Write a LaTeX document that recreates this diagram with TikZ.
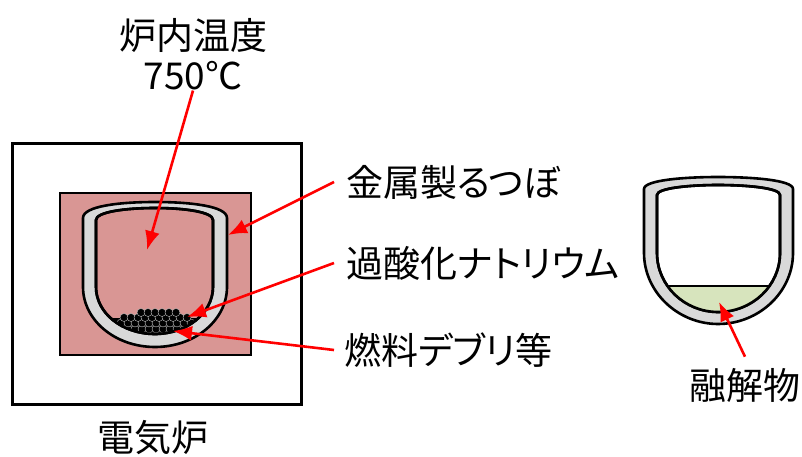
\documentclass[tikz,border=0pt]{standalone}
\usepackage{fontspec}
\usepackage{tikz}
\usetikzlibrary{arrows.meta,positioning}
\newfontfamily\jpfont[RawFeature=+palt]{Noto Sans CJK JP}
\definecolor{ovenpink}{RGB}{217,150,148}
\definecolor{wallgray}{RGB}{217,217,217}
\definecolor{meltgreen}{RGB}{215,228,189}
\tikzset{lbl/.style={font=\jpfont\fontsize{37}{44}\selectfont, inner sep=0pt}}
\tikzstyle{ptr}=[draw=red, line width=2.6pt, -{Latex[length=19pt,width=15pt]}]
\tikzstyle{wall}=[draw=black, line width=2.6pt]
\tikzstyle{ball}=[fill=black, draw=white!75!black, line width=0.4pt]

% crucible outlines (pixel coordinates, y downwards)
\def\potOut{(83,287) -- (83,218) .. controls (83,206) and (120,202) .. (155,202) .. controls (190,202) and (227,206) .. (227,218) -- (227,287) .. controls (227,320) and (195,347) .. (155,347) .. controls (115,347) and (83,320) .. (83,287) -- cycle}
\def\potIn{(96,287) -- (96,220) .. controls (96,212) and (125,208) .. (155,208) .. controls (185,208) and (213,212) .. (213,220) -- (213,287) .. controls (213,313) and (187,334) .. (155,334) .. controls (122,334) and (96,313) .. (96,287) -- cycle}
\def\cupOut{(644,253) -- (644,189) .. controls (644,180) and (685,177) .. (718,177) .. controls (752,177) and (793,180) .. (793,189) -- (793,253) .. controls (793,292) and (759,324) .. (718,324) .. controls (678,324) and (644,292) .. (644,253) -- cycle}
\def\cupIn{(657,253) -- (657,195) .. controls (657,188) and (690,185) .. (718,185) .. controls (747,185) and (780,188) .. (780,195) -- (780,253) .. controls (780,286) and (752,312) .. (718,312) .. controls (685,312) and (657,286) .. (657,253) -- cycle}

\begin{document}
\begin{tikzpicture}[x=1pt, y=-1pt, >=Latex]
\useasboundingbox (0,0) rectangle (802,457);

% electric furnace
\draw[line width=3pt] (12,144) rectangle (301,404);
\draw[wall, fill=ovenpink] (60,193) rectangle (251,355);

% metal crucible with debris
\draw[wall, fill=wallgray] \potOut;
\draw[wall, fill=ovenpink] \potIn;
\begin{scope}
  \clip \potIn;
  \fill (100,318) rectangle (210,340);
  \foreach \x in {128,135,...,184} \draw[ball] (\x,329) circle (4);
  \foreach \x in {121,128,...,191} \draw[ball] (\x,323) circle (4);
  \foreach \x in {124,131,...,188} \draw[ball] (\x,317.5) circle (4);
  \foreach \x in {141,148,...,176} \draw[ball] (\x,312.5) circle (4);
\end{scope}
\draw[wall] \potIn;

% crucible after melting
\draw[wall, fill=wallgray] \cupOut;
\draw[wall, fill=white] \cupIn;
\begin{scope}
  \clip \cupIn;
  \fill[meltgreen] (650,286) rectangle (790,320);
  \draw[line width=2pt] (650,286) -- (790,286);
\end{scope}
\draw[wall] \cupIn;

% labels
\node[lbl] (title) at (193,35) {炉内温度};
\node[lbl] (temp) at (193,76) {750℃};
\node[lbl, anchor=west] (pot) at (346,182) {金属製るつぼ};
\node[lbl, anchor=west] (nao) at (346,263) {過酸化ナトリウム};
\node[lbl, anchor=west] (debris) at (344,350) {燃料デブリ等};
\node[lbl] (furnace) at (153,438) {電気炉};
\node[lbl] (melt) at (745,385) {融解物};

\coordinate (tempTip) at (147,250);
\coordinate (potTip) at (228,235);
\coordinate (naoTip) at (187,317);
\coordinate (debrisTip) at (173,331);
\coordinate (meltTip) at (719,302);

\draw[ptr] (temp.south) -- (tempTip);
\draw[ptr] ([xshift=-12pt]pot.west) -- (potTip);
\draw[ptr] ([xshift=-12pt]nao.west) -- (naoTip);
\draw[ptr] ([xshift=-10pt]debris.west) -- (debrisTip);
\draw[ptr] ([yshift=11pt]melt.north) -- (meltTip);
\end{tikzpicture}
\end{document}
